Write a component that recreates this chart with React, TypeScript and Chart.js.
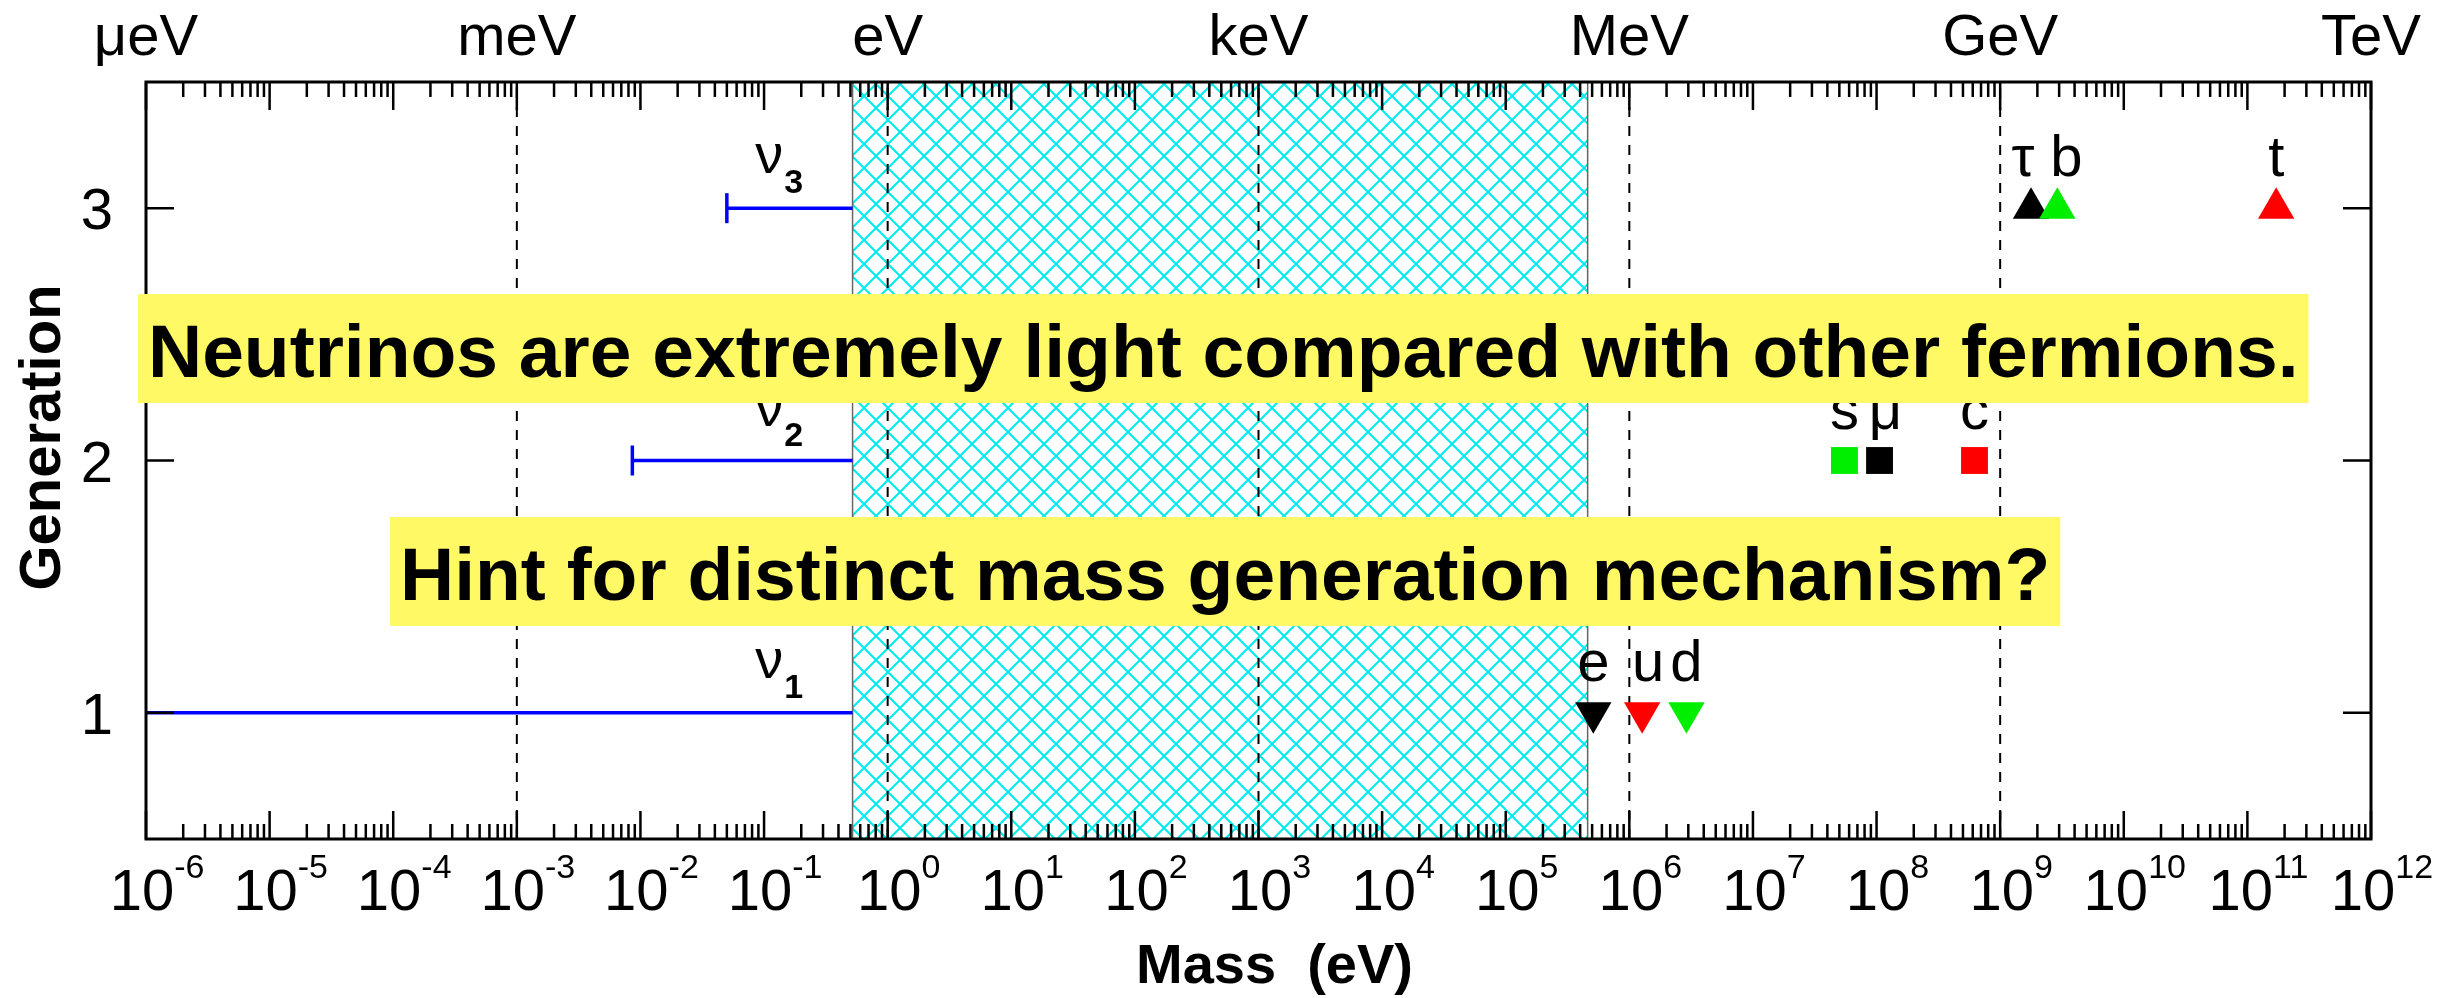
import { useEffect, useRef } from 'react';
import { Chart, registerables } from 'chart.js';

Chart.register(...registerables);

// Mass axis (eV, log scale) and generation axis
const AXIS_MIN = 1e-6;
const AXIS_MAX = 1e12;
const Y_MIN = 0.5;
const Y_MAX = 3.5;
const DECADES = [-6, -5, -4, -3, -2, -1, 0, 1, 2, 3, 4, 5, 6, 7, 8, 9, 10, 11, 12];
const MINOR_STEPS = [2, 3, 4, 5, 6, 7, 8, 9];
const UNIT_LABELS = ['μeV', 'meV', 'eV', 'keV', 'MeV', 'GeV', 'TeV'];
const UNIT_EXPONENTS = [-6, -3, 0, 3, 6, 9, 12];
const GENERATIONS = [1, 2, 3];

// Neutrino mass ranges (eV); 0 = unbounded below
const NEUTRINO_SUBSCRIPTS = ['1', '2', '3'];
const NEUTRINO_LOWER = [0, 0.0086, 0.05];
const NEUTRINO_UPPER = [0.52, 0.52, 0.52];
const NEUTRINO_LABEL_MASS = 0.085;

// Empty band between the neutrinos and the electron (eV)
const GAP_RANGE = [0.52, 4.6e5];

// Charged fermion masses (eV), one per generation
const LEPTON_NAMES = ['e', 'μ', 'τ'];
const LEPTON_MASSES = [5.11e5, 1.057e8, 1.777e9];
const UP_NAMES = ['u', 'c', 't'];
const UP_MASSES = [1.27e6, 6.2e8, 1.71e11];
const DOWN_NAMES = ['d', 's', 'b'];
const DOWN_MASSES = [2.9e6, 5.5e7, 2.9e9];

const HEADLINE = 'Neutrinos are extremely light compared with other fermions.';
const QUESTION = 'Hint for distinct mass generation mechanism?';

// Marker shape per generation
const GEN_STYLE = ['triangle', 'rect', 'triangle'];
const GEN_ROTATION = [180, 0, 0];
const GEN_RADIUS = [21, 19, 21];

// Small horizontal nudges so neighbouring labels do not collide
const LABEL_NUDGE: Record<string, number> = { 'τ': -8, b: 9, 'μ': 6, u: 6 };

const FONT = "'Liberation Sans', Arial, Helvetica, sans-serif";

const xy = (x: number, y: number) => ({ x, y });

function makeHatch(): CanvasPattern | string {
  const tile = document.createElement('canvas');
  tile.width = 24;
  tile.height = 24;
  const c = tile.getContext('2d');
  if (!c) return 'rgba(0,230,230,0.3)';
  c.strokeStyle = '#00eaea';
  c.lineWidth = 2;
  c.beginPath();
  for (const o of [-24, 0, 24]) {
    c.moveTo(o, 0);
    c.lineTo(o + 24, 24);
    c.moveTo(o + 24, 0);
    c.lineTo(o, 24);
  }
  c.stroke();
  const p = c.createPattern(tile, 'repeat');
  return p || 'rgba(0,230,230,0.3)';
}

function fermionDataset(label: string, masses: number[], color: string, order: number) {
  return {
    label,
    data: masses.map((m, i) => xy(m, GENERATIONS[i])),
    showLine: false,
    pointStyle: GEN_STYLE,
    pointRotation: GEN_ROTATION,
    pointRadius: GEN_RADIUS,
    pointBackgroundColor: color,
    pointBorderWidth: 0,
    order,
  };
}

const decorPlugin = {
  id: 'decor',
  afterDraw(chart: any) {
    const { ctx, chartArea: a, scales } = chart;
    const xs = scales.x;
    const ys = scales.y;
    ctx.save();
    ctx.fillStyle = '#000';
    ctx.strokeStyle = '#000';

    // inward ticks
    const MAJOR = 28;
    const MINOR = 15;
    ctx.lineWidth = 2.5;
    ctx.beginPath();
    DECADES.forEach((d, i) => {
      const px = xs.getPixelForValue(Math.pow(10, d));
      ctx.moveTo(px, a.bottom);
      ctx.lineTo(px, a.bottom - MAJOR);
      ctx.moveTo(px, a.top);
      ctx.lineTo(px, a.top + MAJOR);
      if (i < DECADES.length - 1) {
        MINOR_STEPS.forEach((m) => {
          const p = xs.getPixelForValue(m * Math.pow(10, d));
          ctx.moveTo(p, a.bottom);
          ctx.lineTo(p, a.bottom - MINOR);
          ctx.moveTo(p, a.top);
          ctx.lineTo(p, a.top + MINOR);
        });
      }
    });
    GENERATIONS.forEach((g) => {
      const py = ys.getPixelForValue(g);
      ctx.moveTo(a.left, py);
      ctx.lineTo(a.left + MAJOR, py);
      ctx.moveTo(a.right, py);
      ctx.lineTo(a.right - MAJOR, py);
    });
    ctx.stroke();

    // frame
    ctx.lineWidth = 3;
    ctx.strokeRect(a.left, a.top, a.right - a.left, a.bottom - a.top);

    // bottom tick labels 10^n
    ctx.textBaseline = 'alphabetic';
    ctx.textAlign = 'left';
    DECADES.forEach((d) => {
      const px = xs.getPixelForValue(Math.pow(10, d));
      const sup = String(d);
      ctx.font = `58px ${FONT}`;
      const wm = ctx.measureText('10').width;
      ctx.font = `34px ${FONT}`;
      const ws = ctx.measureText(sup).width;
      const x0 = px + 11 - (wm + ws) / 2;
      ctx.font = `58px ${FONT}`;
      ctx.fillText('10', x0, a.bottom + 71);
      ctx.font = `34px ${FONT}`;
      ctx.fillText(sup, x0 + wm, a.bottom + 39);
    });

    // energy unit labels along the top
    ctx.textAlign = 'center';
    ctx.font = `58px ${FONT}`;
    UNIT_LABELS.forEach((u, i) => {
      const px = xs.getPixelForValue(Math.pow(10, UNIT_EXPONENTS[i]));
      ctx.fillText(u, px, a.top - 27);
    });

    // generation tick labels
    ctx.textAlign = 'right';
    GENERATIONS.forEach((g) => {
      ctx.fillText(String(g), a.left - 33, ys.getPixelForValue(g) + 21);
    });

    // axis titles
    ctx.font = `bold 56px ${FONT}`;
    ctx.textAlign = 'center';
    ctx.fillText('Mass  (eV)', (a.left + a.right) / 2 + 16, a.bottom + 144);
    ctx.save();
    ctx.translate(60, (a.top + a.bottom) / 2 - 23);
    ctx.rotate(-Math.PI / 2);
    ctx.font = `bold 58px ${FONT}`;
    ctx.fillText('Generation', 0, 0);
    ctx.restore();

    // neutrino labels
    ctx.textAlign = 'left';
    NEUTRINO_SUBSCRIPTS.forEach((s, i) => {
      const px = xs.getPixelForValue(NEUTRINO_LABEL_MASS);
      const py = ys.getPixelForValue(GENERATIONS[i]);
      ctx.font = `56px ${FONT}`;
      ctx.fillText('ν', px, py - 35);
      const w = ctx.measureText('ν').width;
      ctx.font = `bold 34px ${FONT}`;
      ctx.fillText(s, px + w + 1, py - 15);
    });

    // charged fermion labels
    ctx.textAlign = 'center';
    ctx.font = `58px ${FONT}`;
    const families: [string[], number[]][] = [
      [LEPTON_NAMES, LEPTON_MASSES],
      [UP_NAMES, UP_MASSES],
      [DOWN_NAMES, DOWN_MASSES],
    ];
    families.forEach(([names, masses]) => {
      names.forEach((n, i) => {
        const px = xs.getPixelForValue(masses[i]) + (LABEL_NUDGE[n] || 0);
        const py = ys.getPixelForValue(GENERATIONS[i]);
        ctx.fillText(n, px, py - 32);
      });
    });

    // highlighted statements
    const drawBox = (text: string, x: number, baseline: number) => {
      ctx.font = `bold 75px ${FONT}`;
      ctx.textAlign = 'left';
      const w = ctx.measureText(text).width;
      ctx.fillStyle = '#fff966';
      ctx.fillRect(x - 10, baseline - 83, w + 20, 109);
      ctx.fillStyle = '#000';
      ctx.fillText(text, x, baseline);
    };
    drawBox(HEADLINE, 148, 377);
    drawBox(QUESTION, 400, 600);

    ctx.restore();
  },
};

export default function App() {
  const ref = useRef<HTMLCanvasElement | null>(null);

  useEffect(() => {
    if (!ref.current) return;
    const hatch = makeHatch();

    const neutrinoSets = NEUTRINO_SUBSCRIPTS.map((s, i) => {
      const lo = NEUTRINO_LOWER[i] > 0 ? NEUTRINO_LOWER[i] : AXIS_MIN;
      const capped = NEUTRINO_LOWER[i] > 0;
      return {
        label: 'ν' + s,
        data: [xy(lo, GENERATIONS[i]), xy(NEUTRINO_UPPER[i], GENERATIONS[i])],
        borderColor: '#0000ff',
        borderWidth: 3.5,
        pointStyle: 'line',
        pointRotation: 90,
        pointRadius: [capped ? 15 : 0, 0],
        pointBorderColor: '#0000ff',
        pointBorderWidth: 3.5,
        order: 3,
      };
    });

    const unitLines = UNIT_EXPONENTS.slice(1, -1).map((e) => ({
      label: 'unit ' + e,
      data: [xy(Math.pow(10, e), Y_MIN), xy(Math.pow(10, e), Y_MAX)],
      borderColor: '#000',
      borderWidth: 2,
      borderDash: [10, 9],
      pointRadius: 0,
      order: 4,
    }));

    const gapEdges = GAP_RANGE.map((v) => ({
      label: 'gap edge',
      data: [xy(v, Y_MIN), xy(v, Y_MAX)],
      borderColor: '#666',
      borderWidth: 1.5,
      pointRadius: 0,
      order: 5,
    }));

    const gap = {
      label: 'gap',
      data: [xy(GAP_RANGE[0], Y_MAX), xy(GAP_RANGE[1], Y_MAX)],
      borderWidth: 0,
      borderColor: 'rgba(0,0,0,0)',
      backgroundColor: hatch,
      fill: 'start',
      pointRadius: 0,
      order: 6,
    };

    const chart = new Chart(ref.current, {
      type: 'line',
      data: {
        datasets: [
          fermionDataset('down-type quarks', DOWN_MASSES, '#00ee00', 0),
          fermionDataset('charged leptons', LEPTON_MASSES, '#000000', 1),
          fermionDataset('up-type quarks', UP_MASSES, '#ff0000', 2),
          ...neutrinoSets,
          ...unitLines,
          ...gapEdges,
          gap,
        ] as any,
      },
      options: {
        responsive: false,
        animation: false,
        devicePixelRatio: 1,
        events: [],
        layout: { padding: { left: 146, right: 91, top: 82, bottom: 159 } },
        plugins: { legend: { display: false }, tooltip: { enabled: false } },
        scales: {
          x: { type: 'logarithmic', min: AXIS_MIN, max: AXIS_MAX, display: false },
          y: { type: 'linear', min: Y_MIN, max: Y_MAX, display: false },
        },
      },
      plugins: [decorPlugin],
    });
    return () => chart.destroy();
  }, []);

  return (
    <div style={{ position: 'absolute', left: 0, top: 0, width: 2462, height: 998, background: '#fff' }}>
      <canvas ref={ref} width={2462} height={998} style={{ display: 'block' }} />
    </div>
  );
}
